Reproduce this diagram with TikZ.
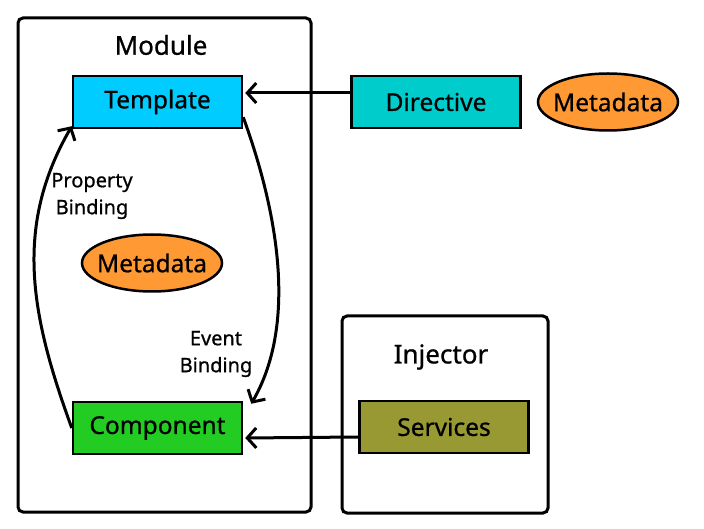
\documentclass[tikz,border=0pt]{standalone}
\usepackage{fontspec}
\setmainfont[FakeBold=0.8]{Noto Sans}
\usetikzlibrary{arrows.meta}
\definecolor{tmplcolor}{RGB}{0,204,255}
\definecolor{dircolor}{RGB}{0,204,204}
\definecolor{metacolor}{RGB}{255,153,51}
\definecolor{compcolor}{RGB}{34,204,34}
\definecolor{servcolor}{RGB}{153,153,51}
\tikzset{
  frame/.style = {draw = black, line width = 3pt, rounded corners = 5pt},
  block/.style = {draw = black, line width = 2.5pt, minimum width = 169pt, minimum height = 52pt, font = \fontsize{24.5}{28}\selectfont\bfseries},
  meta/.style = {ellipse, draw = black, line width = 2.5pt, fill = metacolor, minimum width = 140pt, minimum height = 57pt, inner xsep = -7pt, inner ysep = 0pt, font = \fontsize{24.5}{28}\selectfont\bfseries},
  title/.style = {font = \fontsize{26}{30}\selectfont\bfseries},
  note/.style = {align = center, font = \fontsize{20}{27}\selectfont\bfseries},
  link/.style = {line width = 3pt, -{Straight Barb[length=9pt, width=20pt]}}
}
\usetikzlibrary{shapes.geometric}
\begin{document}
\begin{tikzpicture}[x = 1pt, y = 1pt]
\useasboundingbox (0,0) rectangle (704,528);
% outer boxes
\draw [frame] (18,16) rectangle (311,510);
\draw [frame] (342,15) rectangle (548,212);
\node [title] (module) at (161,483){Module};
\node [title] (injector) at (441,171){Injector};
% blocks
\node [block, fill = tmplcolor] (tmpl) at (157.5,426){Template};
\node [block, fill = dircolor] (dir) at (436,426){Directive};
\node [block, fill = compcolor] (comp) at (157.5,100){Component};
\node [block, fill = servcolor] (serv) at (444,101){Services};
\node [meta] (meta1) at (608,426){Metadata};
\node [meta] (meta2) at (152,265){Metadata};
% bindings
\node [note] (prop) at (92,332){Property\\Binding};
\node [note] (event) at (216,174){Event\\Binding};
\draw [link] (comp.west) to[out = 110, in = 240] ([yshift = 3pt]tmpl.south west);
\draw [link] ([yshift = 12pt]tmpl.south east) to[out = -70, in = 60, looseness = 0.85] ([xshift = 8pt, yshift = -3pt]comp.north east);
% injections
\draw [link] ([yshift = 9pt]dir.west) -- ([yshift = 9pt, xshift = 2pt]tmpl.east);
\draw [link] ([yshift = -10pt]serv.west) -- ([yshift = -10pt, xshift = 2pt]comp.east);
\end{tikzpicture}
\end{document}
